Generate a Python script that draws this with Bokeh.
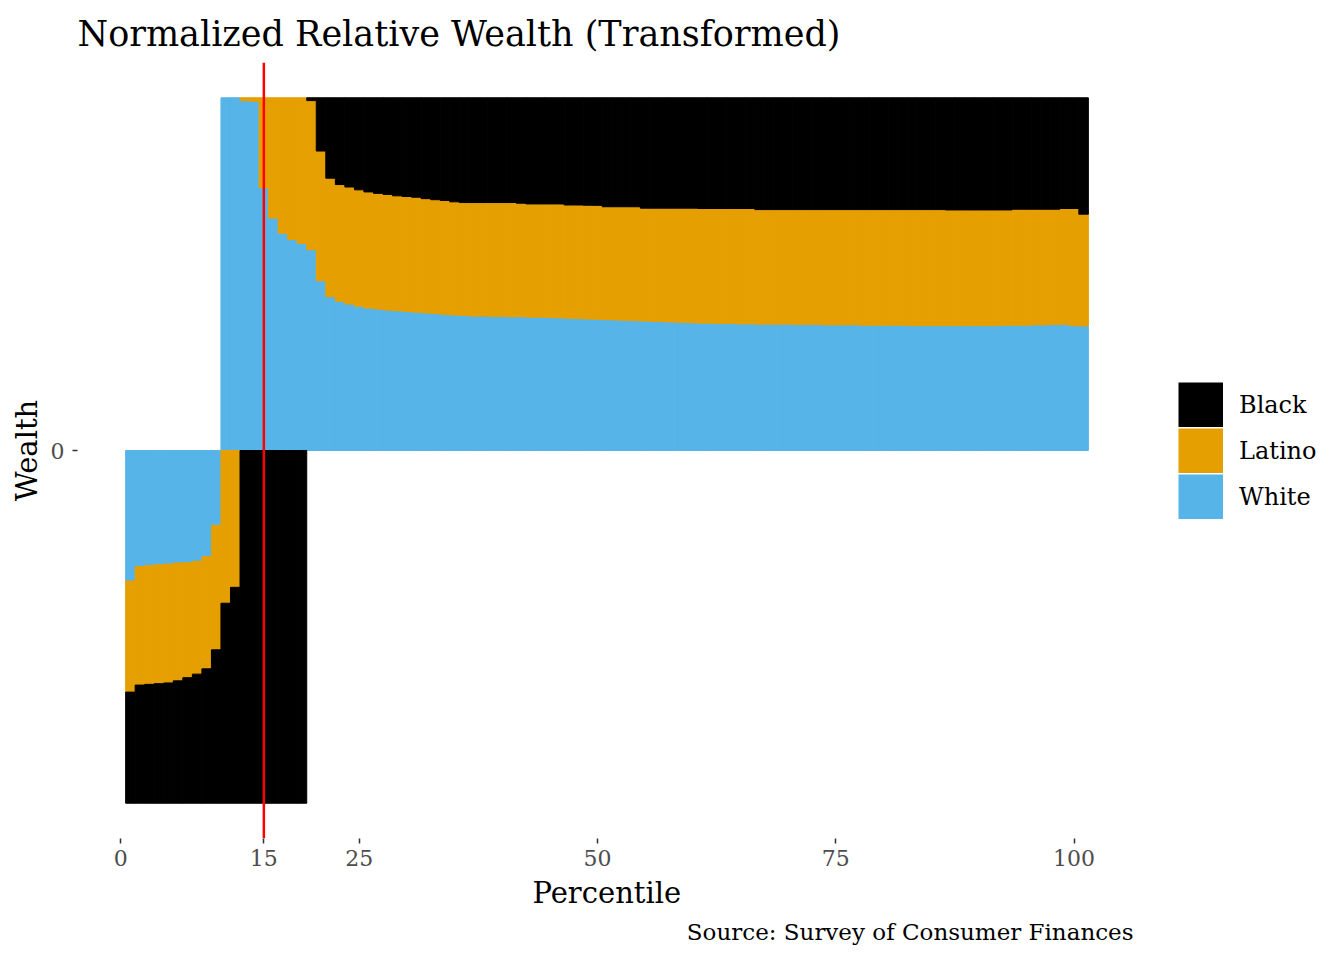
from bokeh.plotting import figure
from bokeh.models import ColumnDataSource, Range1d, FixedTicker, Span, Legend, Title
from bokeh.embed import file_html
from bokeh.resources import INLINE

# percentile of the wealth distribution, one bar each
percentile = list(range(1, 102))

# signed share of each group per percentile
white = [-0.370, -0.329, -0.326, -0.324, -0.322, -0.319, -0.318, -0.314, -0.301, -0.212,
         1.000, 1.000, 0.992, 0.990, 0.745, 0.659, 0.616, 0.598, 0.587, 0.569,
         0.481, 0.436, 0.423, 0.415, 0.409, 0.404, 0.401, 0.398, 0.396, 0.394,
         0.392, 0.390, 0.388, 0.386, 0.384, 0.383, 0.381, 0.381, 0.380, 0.380,
         0.379, 0.379, 0.378, 0.378, 0.377, 0.376, 0.375, 0.374, 0.373, 0.372,
         0.371, 0.370, 0.369, 0.368, 0.367, 0.366, 0.365, 0.364, 0.363, 0.362,
         0.361, 0.361, 0.360, 0.360, 0.359, 0.359, 0.358, 0.358, 0.358, 0.358,
         0.357, 0.357, 0.357, 0.356, 0.356, 0.356, 0.356, 0.355, 0.355, 0.355,
         0.355, 0.355, 0.354, 0.354, 0.354, 0.354, 0.354, 0.354, 0.354, 0.354,
         0.354, 0.354, 0.355, 0.355, 0.355, 0.356, 0.356, 0.357, 0.357, 0.354, 0.353]
latino = [-0.315, -0.336, -0.337, -0.337, -0.337, -0.334, -0.326, -0.320, -0.318, -0.353,
          -0.433, -0.388, 0.008, 0.010, 0.255, 0.341, 0.384, 0.402, 0.413, 0.423,
          0.368, 0.336, 0.331, 0.332, 0.330, 0.329, 0.328, 0.328, 0.326, 0.326,
          0.326, 0.324, 0.323, 0.323, 0.321, 0.320, 0.322, 0.322, 0.323, 0.323,
          0.324, 0.322, 0.321, 0.321, 0.322, 0.323, 0.321, 0.322, 0.323, 0.323,
          0.320, 0.321, 0.322, 0.323, 0.320, 0.321, 0.322, 0.323, 0.324, 0.325,
          0.325, 0.325, 0.326, 0.326, 0.327, 0.327, 0.325, 0.325, 0.325, 0.325,
          0.326, 0.326, 0.326, 0.327, 0.327, 0.327, 0.327, 0.328, 0.328, 0.328,
          0.328, 0.328, 0.329, 0.329, 0.329, 0.329, 0.328, 0.328, 0.328, 0.328,
          0.328, 0.328, 0.327, 0.329, 0.329, 0.328, 0.328, 0.327, 0.329, 0.332, 0.317]
black = [-0.315, -0.335, -0.337, -0.339, -0.341, -0.347, -0.356, -0.366, -0.381, -0.435,
         -0.567, -0.612, -1.0, -1.0, -1.0, -1.0, -1.0, -1.0, -1.0, 0.008,
         0.151, 0.228, 0.246, 0.253, 0.261, 0.267, 0.271, 0.274, 0.278, 0.280,
         0.282, 0.286, 0.289, 0.291, 0.295, 0.297, 0.297, 0.297, 0.297, 0.297,
         0.297, 0.299, 0.301, 0.301, 0.301, 0.301, 0.304, 0.304, 0.305, 0.305,
         0.309, 0.309, 0.309, 0.309, 0.313, 0.313, 0.313, 0.313, 0.313, 0.313,
         0.314, 0.314, 0.314, 0.314, 0.314, 0.314, 0.317, 0.317, 0.317, 0.317,
         0.317, 0.317, 0.317, 0.317, 0.317, 0.317, 0.317, 0.317, 0.317, 0.317,
         0.317, 0.317, 0.317, 0.317, 0.317, 0.317, 0.318, 0.318, 0.318, 0.318,
         0.318, 0.318, 0.318, 0.316, 0.316, 0.316, 0.316, 0.316, 0.314, 0.314, 0.330]

groups = ["White", "Latino", "Black"]  # stacked outward from zero
legend_order = ["Black", "Latino", "White"]
series = {"White": white, "Latino": latino, "Black": black}
colors = {"Black": "#000000", "Latino": "#E69F00", "White": "#56B4E9"}
x_ticks = [0, 15, 25, 50, 75, 100]
marker_pct = 15
FONT = "DejaVu Serif"

# position = fill: positives and negatives each scaled to 1
stacks = {g: {"x": [], "top": [], "bottom": []} for g in groups}
for i, x in enumerate(percentile):
    vals = [series[g][i] for g in groups]
    pos_sum = sum(v for v in vals if v > 0) or 1.0
    neg_sum = -sum(v for v in vals if v < 0) or 1.0
    up, down = 0.0, 0.0
    for g, v in zip(groups, vals):
        if v > 0:
            stacks[g]["x"].append(x)
            stacks[g]["bottom"].append(up)
            up += v / pos_sum
            stacks[g]["top"].append(up)
        elif v < 0:
            stacks[g]["x"].append(x)
            stacks[g]["top"].append(down)
            down += v / neg_sum
            stacks[g]["bottom"].append(down)

# the panel spans x -4.55..106.55 over 1059px; the frame runs on to the
# right edge so the legend can sit inside it
W, H = 1344, 960
left, right, top, bottom = 77, 8, 62, 122
px_per_unit = 1059 / 111.1
x_start = -4.55
x_end = x_start + (W - left - right) / px_per_unit

p = figure(width=W, height=H, x_range=Range1d(x_start, x_end), y_range=Range1d(-1.1, 1.1),
           output_backend="svg", toolbar_location=None,
           min_border_left=left, min_border_top=top, min_border_bottom=bottom,
           min_border_right=right)
p.outline_line_color = None
p.grid.visible = False
p.background_fill_color = "white"
p.border_fill_color = "white"

p.title.text = "Normalized Relative Wealth (Transformed)"
p.title.text_font = FONT
p.title.text_font_size = "35px"
p.title.text_font_style = "normal"
p.title.text_color = "black"
p.title.align = "left"
p.title.standoff = 18

for g in groups:
    src = ColumnDataSource(stacks[g])
    p.vbar(x="x", width=1, top="top", bottom="bottom", source=src,
           fill_color=colors[g], line_color=colors[g], line_width=1)

p.add_layout(Span(location=marker_pct, dimension="height", line_color="red", line_width=2.5))

for ax in (p.xaxis[0], p.yaxis[0]):
    ax.axis_line_color = None
    ax.minor_tick_line_color = None
    ax.major_tick_line_color = "#333333"
    ax.major_tick_line_width = 1.5
    ax.major_tick_in = 0
    ax.major_tick_out = 5
    ax.major_label_text_font = FONT
    ax.major_label_text_font_size = "22px"
    ax.major_label_text_color = "#4D4D4D"
    ax.axis_label_text_font = FONT
    ax.axis_label_text_font_size = "29px"
    ax.axis_label_text_font_style = "normal"
    ax.axis_label_text_color = "black"

p.xaxis.ticker = FixedTicker(ticks=x_ticks)
p.xaxis.major_label_standoff = 6
p.yaxis.ticker = FixedTicker(ticks=[0])
p.yaxis.axis_label = "Wealth"
p.yaxis.major_label_standoff = 8
p.yaxis.axis_label_standoff = 4

# x axis title, centred under the 77..1136px panel
xlabel = Title(text="Percentile", align="left", offset=455, standoff=10,
               text_font=FONT, text_font_size="29px", text_font_style="normal", text_color="black")
p.add_layout(xlabel, "below")

caption = Title(text="Source: Survey of Consumer Finances", align="right", offset=203, standoff=4,
                text_font=FONT, text_font_size="23px", text_font_style="normal", text_color="black")
p.add_layout(caption, "below")

# legend keys: thick lines with no drawable points give solid square swatches
nan = float("nan")
keys = {}
for g in legend_order:
    keys[g] = p.line(x=[nan, nan], y=[nan, nan], line_color=colors[g], line_width=45,
                     line_cap="butt")

legend = Legend(items=[(g, [keys[g]]) for g in legend_order],
                location=(1101, 319), glyph_width=45, glyph_height=45, spacing=1,
                padding=0, margin=0, label_standoff=16,
                label_text_font=FONT, label_text_font_size="24px", label_text_color="black",
                border_line_color=None, background_fill_alpha=0)
p.add_layout(legend)

open("out.html", "w").write(file_html(p, INLINE))
